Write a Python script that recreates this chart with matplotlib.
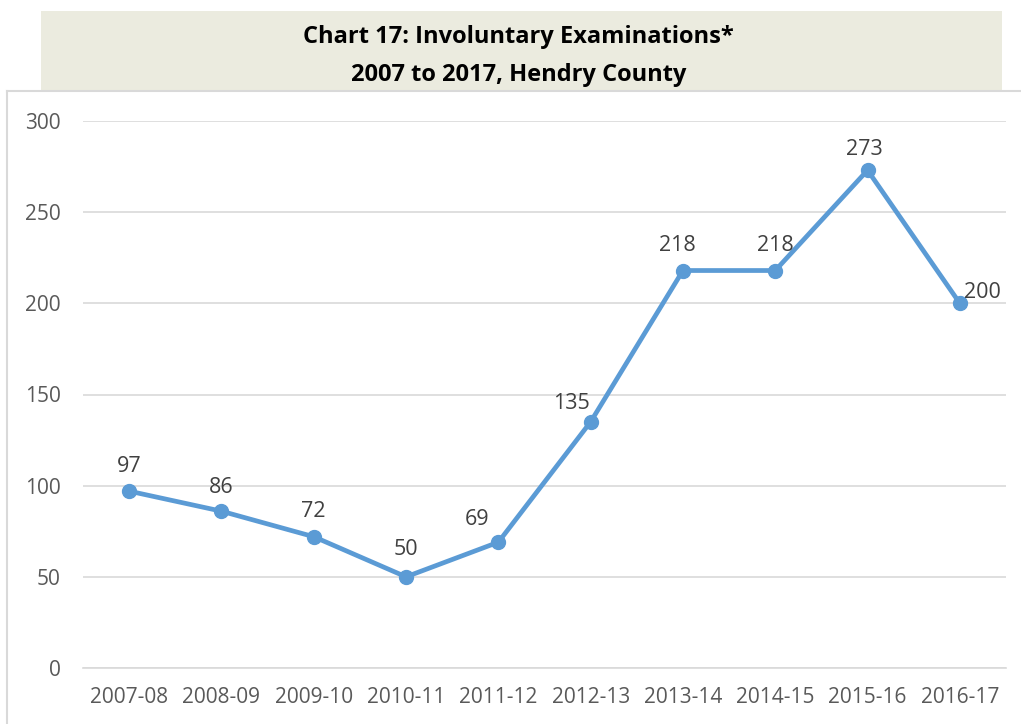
import matplotlib.pyplot as plt
from matplotlib.patches import Rectangle
from matplotlib.lines import Line2D

years = ['2007-08', '2008-09', '2009-10', '2010-11', '2011-12',
         '2012-13', '2013-14', '2014-15', '2015-16', '2016-17']
exams = [97, 86, 72, 50, 69, 135, 218, 218, 273, 200]

# label nudges in points (dx, dy), to mimic the placement in the source chart
label_offsets = [(0, 18), (0, 17), (0, 18), (0, 20), (-15, 16),
                 (-14, 13), (-4, 18), (0, 18), (-2, 15), (16, 8)]

W, H = 1021, 724
fig = plt.figure(figsize=(W / 100, H / 100), dpi=100)
plt.rcParams['font.family'] = ['Open Sans', 'DejaVu Sans']

# outer chart border (only left and top visible in crop)
fig.add_artist(Line2D([7 / W, 7 / W], [0, 1 - 91 / H], color='#D9D9D9', lw=1.5))
fig.add_artist(Line2D([7 / W, 1], [1 - 91 / H, 1 - 91 / H], color='#D9D9D9', lw=1.5))

# title box
fig.add_artist(Rectangle((41 / W, 1 - 90 / H), (1002 - 41) / W, (90 - 11) / H,
                         transform=fig.transFigure, facecolor='#EBEBDF', edgecolor='none'))
fig.text(0.508, 1 - 37 / H, 'Chart 17: Involuntary Examinations*', ha='center', va='center',
         fontsize=17, fontweight='bold', color='black')
fig.text(0.508, 1 - 75 / H, '2007 to 2017, Hendry County', ha='center', va='center',
         fontsize=17, fontweight='bold', color='black')

ax = fig.add_axes([83 / W, 1 - 668 / H, (1006 - 83) / W, (668 - 121) / H])
x = range(len(years))
ax.plot(x, exams, color='#5B9BD5', lw=3.4, marker='o', markersize=10, zorder=3)

for i, v in enumerate(exams):
    dx, dy = label_offsets[i]
    ax.annotate(str(v), (i, v), xytext=(dx, dy), textcoords='offset points',
                ha='center', va='center', fontsize=15.5, color='#404040')

ax.set_xlim(-0.5, len(years) - 0.5)
ax.set_ylim(0, 300)
ax.set_yticks(range(0, 301, 50))
ax.set_xticks(list(x))
ax.set_xticklabels(years)
ax.grid(axis='y', color='#D9D9D9', lw=1.2)
ax.set_axisbelow(True)
for s in ['top', 'right', 'left']:
    ax.spines[s].set_visible(False)
ax.spines['bottom'].set_color('#D9D9D9')
ax.spines['bottom'].set_linewidth(1.2)
ax.tick_params(axis='both', length=0, labelsize=15, colors='#595959')
ax.tick_params(axis='y', pad=16)
ax.tick_params(axis='x', pad=14)

fig.savefig('out.png', dpi=100)
